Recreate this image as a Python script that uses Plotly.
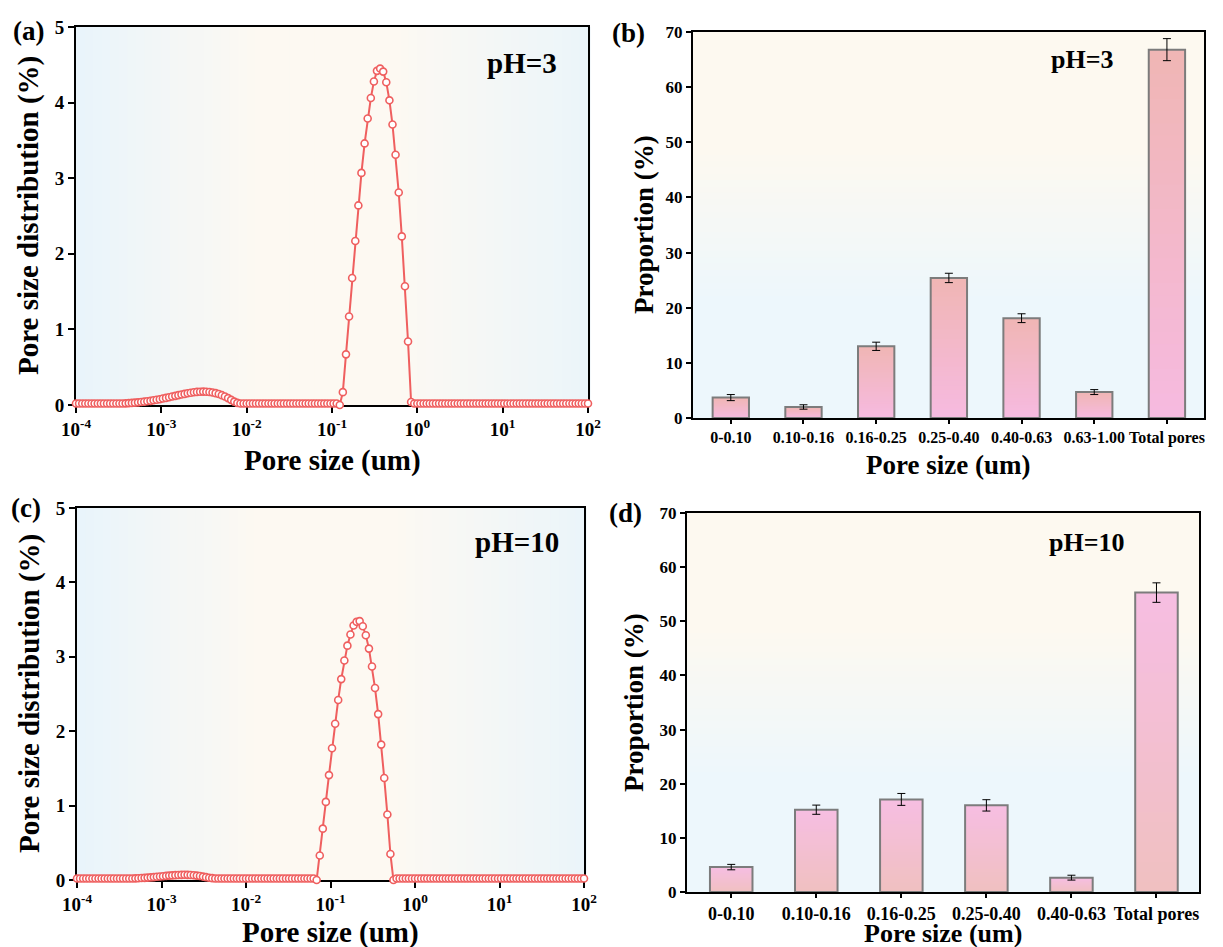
import plotly.graph_objects as go

# ---------------- data ----------------
# pore size grid, log10(um)
log_size = [
    -4.000, -3.964, -3.927, -3.891, -3.855, -3.818, -3.782, -3.745, -3.709, -3.673,
    -3.636, -3.600, -3.564, -3.527, -3.491, -3.455, -3.418, -3.382, -3.345, -3.309,
    -3.273, -3.236, -3.200, -3.164, -3.127, -3.091, -3.055, -3.018, -2.982, -2.945,
    -2.909, -2.873, -2.836, -2.800, -2.764, -2.727, -2.691, -2.655, -2.618, -2.582,
    -2.545, -2.509, -2.473, -2.436, -2.400, -2.364, -2.327, -2.291, -2.255, -2.218,
    -2.182, -2.145, -2.109, -2.073, -2.036, -2.000, -1.964, -1.927, -1.891, -1.855,
    -1.818, -1.782, -1.745, -1.709, -1.673, -1.636, -1.600, -1.564, -1.527, -1.491,
    -1.455, -1.418, -1.382, -1.345, -1.309, -1.273, -1.236, -1.200, -1.164, -1.127,
    -1.091, -1.055, -1.018, -0.982, -0.945, -0.909, -0.873, -0.836, -0.800, -0.764,
    -0.727, -0.691, -0.655, -0.618, -0.582, -0.545, -0.509, -0.473, -0.436, -0.400,
    -0.364, -0.327, -0.291, -0.255, -0.218, -0.182, -0.145, -0.109, -0.073, -0.036,
    0.000, 0.036, 0.073, 0.109, 0.145, 0.182, 0.218, 0.255, 0.291, 0.327,
    0.364, 0.400, 0.436, 0.473, 0.509, 0.545, 0.582, 0.618, 0.655, 0.691,
    0.727, 0.764, 0.800, 0.836, 0.873, 0.909, 0.945, 0.982, 1.018, 1.055,
    1.091, 1.127, 1.164, 1.200, 1.236, 1.273, 1.309, 1.345, 1.382, 1.418,
    1.455, 1.491, 1.527, 1.564, 1.600, 1.636, 1.673, 1.709, 1.745, 1.782,
    1.818, 1.855, 1.891, 1.927, 1.964, 2.000,
]

# pore size distribution (%), pH = 3
psd_ph3 = [
    0.02, 0.02, 0.02, 0.02, 0.02, 0.02, 0.02, 0.02, 0.02, 0.02,
    0.02, 0.02, 0.02, 0.02, 0.02, 0.02, 0.022, 0.025, 0.028, 0.031,
    0.035, 0.039, 0.044, 0.049, 0.055, 0.062, 0.069, 0.077, 0.085, 0.094,
    0.103, 0.112, 0.121, 0.130, 0.139, 0.147, 0.155, 0.162, 0.168, 0.173,
    0.176, 0.177, 0.176, 0.172, 0.166, 0.157, 0.145, 0.130, 0.112, 0.091,
    0.068, 0.045, 0.028, 0.020, 0.02, 0.02, 0.02, 0.02, 0.02, 0.02,
    0.02, 0.02, 0.02, 0.02, 0.02, 0.02, 0.02, 0.02, 0.02, 0.02,
    0.02, 0.02, 0.02, 0.02, 0.02, 0.02, 0.02, 0.02, 0.02, 0.02,
    0.02, 0.02, 0.02, 0.02, 0.02, 0.00, 0.17, 0.67, 1.17, 1.68,
    2.17, 2.64, 3.07, 3.46, 3.79, 4.06, 4.28, 4.42, 4.45, 4.41,
    4.27, 4.03, 3.71, 3.31, 2.81, 2.23, 1.57, 0.84, 0.04, 0.02,
    0.02, 0.02, 0.02, 0.02, 0.02, 0.02, 0.02, 0.02, 0.02, 0.02,
    0.02, 0.02, 0.02, 0.02, 0.02, 0.02, 0.02, 0.02, 0.02, 0.02,
    0.02, 0.02, 0.02, 0.02, 0.02, 0.02, 0.02, 0.02, 0.02, 0.02,
    0.02, 0.02, 0.02, 0.02, 0.02, 0.02, 0.02, 0.02, 0.02, 0.02,
    0.02, 0.02, 0.02, 0.02, 0.02, 0.02, 0.02, 0.02, 0.02, 0.02,
    0.02, 0.02, 0.02, 0.02, 0.02, 0.02,
]

# pore size distribution (%), pH = 10
psd_ph10 = [
    0.02, 0.02, 0.02, 0.02, 0.02, 0.02, 0.02, 0.02, 0.02, 0.02,
    0.02, 0.02, 0.02, 0.02, 0.02, 0.02, 0.02, 0.02, 0.02, 0.022,
    0.024, 0.026, 0.029, 0.032, 0.035, 0.039, 0.043, 0.047, 0.051, 0.055,
    0.059, 0.062, 0.065, 0.068, 0.069, 0.070, 0.069, 0.067, 0.064, 0.059,
    0.053, 0.046, 0.038, 0.031, 0.025, 0.021, 0.02, 0.02, 0.02, 0.02,
    0.02, 0.02, 0.02, 0.02, 0.02, 0.02, 0.02, 0.02, 0.02, 0.02,
    0.02, 0.02, 0.02, 0.02, 0.02, 0.02, 0.02, 0.02, 0.02, 0.02,
    0.02, 0.02, 0.02, 0.02, 0.02, 0.02, 0.02, 0.02, 0.00, 0.33,
    0.69, 1.05, 1.41, 1.77, 2.10, 2.42, 2.70, 2.95, 3.15, 3.30,
    3.42, 3.47, 3.48, 3.41, 3.29, 3.11, 2.87, 2.58, 2.23, 1.82,
    1.37, 0.88, 0.35, 0.00, 0.02, 0.02, 0.02, 0.02, 0.02, 0.02,
    0.02, 0.02, 0.02, 0.02, 0.02, 0.02, 0.02, 0.02, 0.02, 0.02,
    0.02, 0.02, 0.02, 0.02, 0.02, 0.02, 0.02, 0.02, 0.02, 0.02,
    0.02, 0.02, 0.02, 0.02, 0.02, 0.02, 0.02, 0.02, 0.02, 0.02,
    0.02, 0.02, 0.02, 0.02, 0.02, 0.02, 0.02, 0.02, 0.02, 0.02,
    0.02, 0.02, 0.02, 0.02, 0.02, 0.02, 0.02, 0.02, 0.02, 0.02,
    0.02, 0.02, 0.02, 0.02, 0.02, 0.02,
]

log_tick_vals = [1e-4, 1e-3, 1e-2, 1e-1, 1e0, 1e1, 1e2]
log_tick_text = ["10<sup>-4</sup>", "10<sup>-3</sup>", "10<sup>-2</sup>", "10<sup>-1</sup>",
                 "10<sup>0</sup>", "10<sup>1</sup>", "10<sup>2</sup>"]

cat_ph3 = ["0-0.10", "0.10-0.16", "0.16-0.25", "0.25-0.40", "0.40-0.63", "0.63-1.00", "Total pores"]
prop_ph3 = [3.7, 2.0, 13.0, 25.4, 18.1, 4.7, 66.8]
err_ph3 = [0.55, 0.4, 0.75, 0.85, 0.8, 0.45, 2.0]

cat_ph10 = ["0-0.10", "0.10-0.16", "0.16-0.25", "0.25-0.40", "0.40-0.63", "Total pores"]
prop_ph10 = [4.6, 15.2, 17.1, 16.0, 2.65, 55.3]
err_ph10 = [0.5, 0.85, 1.1, 1.05, 0.45, 1.8]

# ---------------- styling helpers ----------------
# the page body has an 8 px margin, so the figure is 8 px smaller and all
# screen positions below are shifted by that offset
OFF = 8
W, H = 1223 - OFF, 947 - OFF
FONT = "Liberation Serif"
RED = "#ef5f5f"


def fx(p):
    return (p - OFF) / W


def fy(p):
    return 1 - (p - OFF) / H


def lerp(c1, c2, t):
    t = max(0.0, min(1.0, t))
    return "rgb(%d,%d,%d)" % tuple(round(a + (b - a) * t) for a, b in zip(c1, c2))


def bold(size):
    return dict(family=FONT, size=size, color="black", weight="bold")


fig = go.Figure()

# ---------------- distribution curves ----------------
size_um = [10 ** v for v in log_size]
for psd, xa, ya in [(psd_ph3, "x", "y"), (psd_ph10, "x3", "y3")]:
    fig.add_trace(go.Scatter(
        x=size_um, y=psd, xaxis=xa, yaxis=ya, mode="lines+markers",
        line=dict(color=RED, width=2),
        marker=dict(symbol="circle", size=7, color="white", line=dict(color=RED, width=1.6)),
        cliponaxis=False, showlegend=False, hoverinfo="skip"))

# ---------------- gradient bars ----------------
N = 30
bar_sets = [
    (cat_ph3, prop_ph3, err_ph3, "x2", "y2", (246, 186, 224), (240, 182, 180)),
    (cat_ph10, prop_ph10, err_ph10, "x4", "y4", (240, 192, 192), (246, 190, 226)),
]
for cats, vals, errs, xa, ya, c_bot, c_top in bar_sets:
    for k in range(N):
        col = lerp(c_bot, c_top, (k + 0.5) / N)
        hts = [v / N * (1.6 if k < N - 1 else 1.0) for v in vals]
        bases = [v * k / N for v in vals]
        fig.add_trace(go.Bar(
            x=cats, y=hts, base=bases, width=0.5, xaxis=xa, yaxis=ya,
            marker=dict(color=col, line=dict(width=0)),
            showlegend=False, hoverinfo="skip"))
    fig.add_trace(go.Bar(
        x=cats, y=vals, width=0.5, xaxis=xa, yaxis=ya,
        marker=dict(color="rgba(0,0,0,0)", line=dict(color="#7c7c7c", width=2)),
        error_y=dict(type="data", array=errs, color="black", thickness=1, width=4),
        showlegend=False, hoverinfo="skip"))

# ---------------- background gradients ----------------
shapes = []
M = 60
blue_l = (233, 244, 251)
cream = (253, 249, 242)
blue_r = (235, 245, 250)
for xr, yr in [("x domain", "y domain"), ("x3 domain", "y3 domain")]:
    for j in range(M):
        f = (j + 0.5) / M
        if f < 0.36:
            c = lerp(blue_l, cream, f / 0.36)
        elif f < 0.62:
            c = "rgb(%d,%d,%d)" % cream
        else:
            c = lerp(cream, blue_r, (f - 0.62) / 0.38)
        shapes.append(dict(type="rect", xref=xr, yref=yr, x0=j / M, x1=(j + 1.3) / M,
                           y0=0, y1=1, fillcolor=c, line=dict(width=0), layer="below"))
cream_t = (253, 249, 240)
blue_b = (237, 247, 252)
for xr, yr in [("x2 domain", "y2 domain"), ("x4 domain", "y4 domain")]:
    for j in range(M):
        f = (j + 0.5) / M
        c = lerp(blue_b, cream_t, (f - 0.3) / 0.4)
        shapes.append(dict(type="rect", xref=xr, yref=yr, x0=0, x1=1, y0=j / M,
                           y1=(j + 1.3) / M, fillcolor=c, line=dict(width=0), layer="below"))

# ---------------- axes ----------------
common = dict(showline=True, linecolor="black", linewidth=2, mirror=True, ticks="outside",
              tickwidth=2, tickcolor="black", showgrid=False, zeroline=False,
              automargin=False)

fig.update_layout(
    template="none",
    width=W, height=H, margin=dict(l=0, r=0, t=0, b=0, autoexpand=False),
    paper_bgcolor="white", plot_bgcolor="white", barmode="overlay",
    font=dict(family=FONT, color="black"),
    shapes=shapes,
    xaxis=dict(domain=[fx(76), fx(588)], anchor="y", type="log", range=[-4, 2],
               tickmode="array", tickvals=log_tick_vals, ticktext=log_tick_text, ticklen=6,
               tickfont=bold(19), tickangle=0, layer="below traces", **common),
    yaxis=dict(domain=[fy(405), fy(27)], anchor="x", range=[0, 5], dtick=1, ticklen=6,
               tickfont=bold(19), layer="below traces", **common),
    xaxis2=dict(domain=[fx(693), fx(1204)], anchor="y2", type="category", range=[-0.52, 6.51],
                ticklen=4, tickfont=bold(16), tickangle=0, **common),
    yaxis2=dict(domain=[fy(418), fy(32)], anchor="x2", range=[0, 70], dtick=10, ticklen=5,
                tickfont=bold(17), **common),
    xaxis3=dict(domain=[fx(77), fx(584)], anchor="y3", type="log", range=[-4, 2],
                tickmode="array", tickvals=log_tick_vals, ticktext=log_tick_text, ticklen=6,
                tickfont=bold(19), tickangle=0, layer="below traces", **common),
    yaxis3=dict(domain=[fy(880), fy(508)], anchor="x3", range=[0, 5], dtick=1, ticklen=6,
                tickfont=bold(19), layer="below traces", **common),
    xaxis4=dict(domain=[fx(687), fx(1199)], anchor="y4", type="category", range=[-0.52, 5.5],
                ticklen=4, tickfont=bold(18), tickangle=0, **common),
    yaxis4=dict(domain=[fy(892), fy(513)], anchor="x4", range=[0, 70], dtick=10, ticklen=5,
                tickfont=bold(17), **common),
)

# ---------------- text annotations ----------------
ann = []


def add_text(text, x, y, size, angle=0):
    ann.append(dict(text=text, x=fx(x), y=fy(y), xref="paper", yref="paper",
                    xanchor="center", yanchor="middle", showarrow=False,
                    textangle=angle, font=bold(size)))


add_text("(a)", 28, 31, 27)
add_text("(b)", 628, 33, 27)
add_text("(c)", 26, 508, 27)
add_text("(d)", 625, 513, 27)

add_text("pH=3", 522, 63, 29)
add_text("pH=3", 1082, 60, 26)
add_text("pH=10", 517, 542, 29)
add_text("pH=10", 1087, 542, 26)

add_text("Pore size (um)", 332, 460, 29)
add_text("Pore size (um)", 948, 465, 27)
add_text("Pore size (um)", 330, 932, 29)
add_text("Pore size (um)", 943, 933, 26)

add_text("Pore size distribution (%)", 28, 216, 29, -90)
add_text("Proportion (%)", 644, 225, 27, -90)
add_text("Pore size distribution (%)", 29, 694, 29, -90)
add_text("Proportion (%)", 634, 703, 27, -90)

fig.update_layout(annotations=ann)

fig.write_html("out.html")
